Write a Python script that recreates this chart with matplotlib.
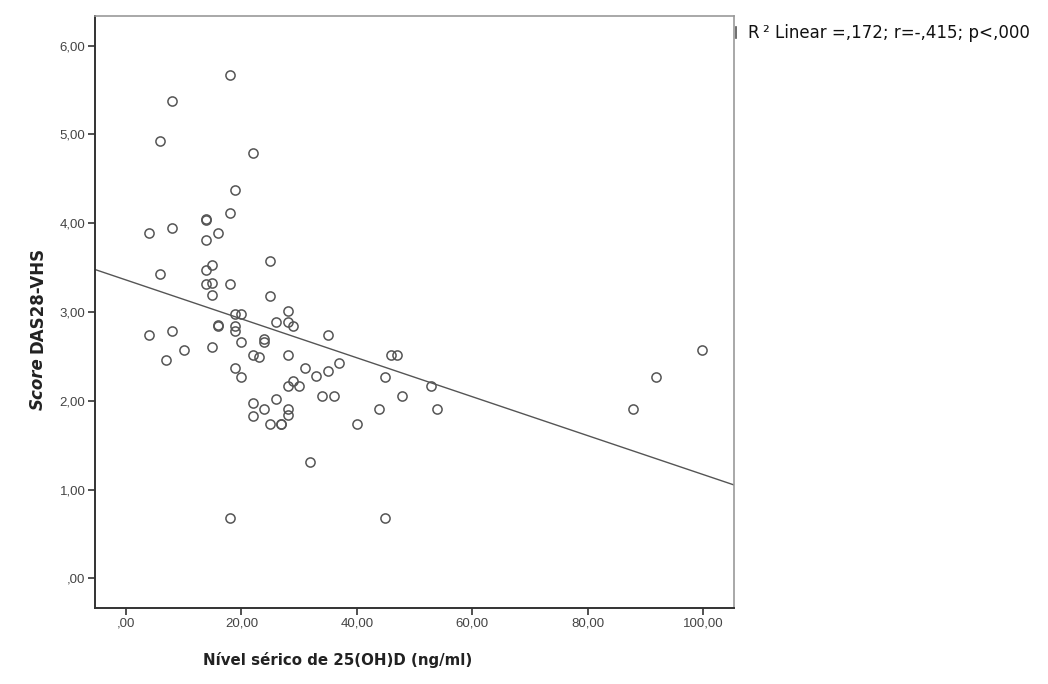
#!/usr/bin/env python3
"""
Scatter of 25(OH)D serum level vs DAS28-VHS score with linear fit (SPSS style)
"""
import numpy as np
import matplotlib
matplotlib.use("Agg")
import matplotlib.pyplot as plt

# serum 25(OH)D level (ng/ml)
vit_d = [
    18.0, 8.0, 5.95, 22.0, 18.95, 18.0, 13.9, 13.9, 3.93, 8.0, 16.0, 13.9,
    5.95, 13.9, 14.96, 24.97, 13.9, 14.96, 17.98, 14.96, 24.97,
    18.95, 19.99, 28.0, 26.0, 28.0, 29.0, 15.95, 15.95, 18.95, 18.95,
    3.93, 8.0, 19.99, 23.93, 23.93, 10.0, 14.96, 6.99, 21.96, 22.98, 28.0,
    31.0, 18.95, 19.99, 29.0, 28.0, 30.0, 26.0, 21.96, 23.93, 28.0, 28.0,
    21.96, 24.97, 26.93, 26.93,
    34.97, 36.99, 34.97, 32.95, 33.99, 36.0, 31.96, 39.95, 43.93, 44.97,
    45.96, 46.94, 47.9, 52.9, 53.9,
    17.98, 44.97, 99.9, 91.96, 87.86,
]
# DAS28-VHS score
das28 = [
    5.67, 5.38, 4.92, 4.79, 4.37, 4.12, 4.05, 4.04, 3.89, 3.94, 3.89, 3.81,
    3.43, 3.47, 3.53, 3.57, 3.31, 3.33, 3.31, 3.19, 3.18,
    2.975, 2.975, 3.01, 2.885, 2.885, 2.84, 2.85, 2.84, 2.84, 2.79,
    2.74, 2.79, 2.66, 2.69, 2.66, 2.57, 2.60, 2.46, 2.52, 2.49, 2.52,
    2.365, 2.365, 2.27, 2.22, 2.17, 2.17, 2.02, 1.98, 1.91, 1.91, 1.84,
    1.83, 1.74, 1.74, 1.74,
    2.745, 2.43, 2.34, 2.28, 2.05, 2.05, 1.306, 1.736, 1.91, 2.27,
    2.51, 2.51, 2.05, 2.17, 1.91,
    0.685, 0.685, 2.57, 2.27, 1.91,
]

# linear fit
fit_intercept = 3.36
fit_slope = -0.0219
fit_label = "R\u2009\u00b2 Linear =,172; r=-,415; p<,000"

x_ticks = [0, 20, 40, 60, 80, 100]
y_ticks = [0, 1, 2, 3, 4, 5, 6]


def spss_fmt(v):
    """ SPSS style number: comma decimal, no leading zero """
    s = "%.2f" % v
    s = s.replace(".", ",")
    if s.startswith("0,"):
        s = s[1:]
    return s


fig = plt.figure(figsize=(10.48, 6.84), dpi=100)
ax = fig.add_axes([0.0907, 0.1115, 0.6097, 0.8655])

x_lim = (-5.38, 105.4)
ax.set_xlim(*x_lim)
ax.set_ylim(-0.331, 6.336)

# fit line across whole x range
xx = np.array(x_lim)
ax.plot(xx, fit_intercept + fit_slope * xx, color="#555555", linewidth=1.0, zorder=2)

ax.plot(vit_d, das28, linestyle="none", marker="o", markersize=6.6,
        markerfacecolor="none", markeredgecolor="#555555", markeredgewidth=1.1, zorder=3)

ax.set_xticks(x_ticks)
ax.set_xticklabels([spss_fmt(v) for v in x_ticks])
ax.set_yticks(y_ticks)
ax.set_yticklabels([spss_fmt(v) for v in y_ticks])
ax.tick_params(axis="both", direction="out", length=5, width=1.2, color="#333333",
               labelsize=9.5, labelcolor="#444444", pad=2)
for lab in ax.get_xticklabels() + ax.get_yticklabels():
    lab.set_family("Liberation Sans")

for side in ("left", "bottom"):
    ax.spines[side].set_color("#333333")
    ax.spines[side].set_linewidth(1.4)
for side in ("top", "right"):
    ax.spines[side].set_color("#999999")
    ax.spines[side].set_linewidth(1.2)

# axis titles
fig.text(338 / 1048, 1 - 660 / 684, "Nível sérico de 25(OH)D (ng/ml)",
         ha="center", va="center", fontsize=10.8, fontweight="bold", color="#222222")
ylab_x = 38 / 1048
ylab_y = 1 - 353 / 684
fig.text(ylab_x, ylab_y, "DAS28-VHS", rotation=90, ha="center", va="bottom",
         fontsize=12, fontweight="bold", color="#222222")
fig.text(ylab_x, ylab_y - 0.006, "Score", rotation=90, ha="center", va="top",
         fontsize=12, fontweight="bold", style="italic", color="#222222")

# fit line legend key and label
fig.add_artist(plt.Line2D([736 / 1048, 736 / 1048], [1 - 27 / 684, 1 - 38 / 684],
                          color="#555555", linewidth=1.2))
fig.text(748 / 1048, 1 - 33 / 684, fit_label, ha="left", va="center",
         fontsize=12, color="#111111")

fig.savefig("out.png", dpi=100)
plt.close(fig)
